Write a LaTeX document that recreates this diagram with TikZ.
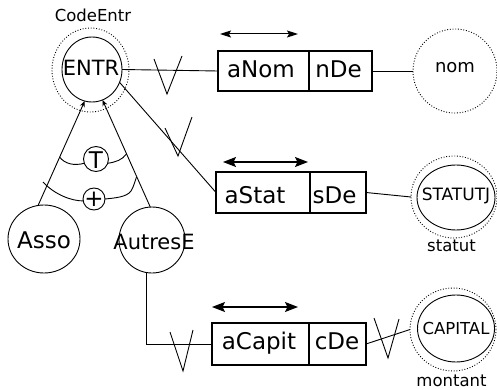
\documentclass[tikz,border=0pt]{standalone}
\usepackage{fontspec}
\setmainfont{DejaVu Sans}
\usetikzlibrary{shapes.geometric,arrows.meta}
\begin{document}
\begin{tikzpicture}[x=1pt,y=-1pt,
  every node/.style={inner sep=0pt, outer sep=0pt},
  ell/.style={draw, ellipse, line width=0.9pt},
  dotell/.style={draw, ellipse, line width=0.9pt, dash pattern=on 0.9pt off 1.8pt},
  boxpart/.style={draw, rectangle, line width=1.4pt},
  big/.style={font=\fontsize{23}{26}\selectfont, anchor=base},
  mid/.style={font=\fontsize{21}{24}\selectfont, anchor=base},
  small/.style={font=\fontsize{16.5}{19}\selectfont, anchor=base},
  conn/.style={line width=0.9pt},
  crow/.style={line width=0.9pt},
  upar/.style={conn, -{Stealth[length=6pt,width=5pt]}},
  dblthin/.style={line width=1pt, {Stealth[length=11pt,width=7pt,inset=2pt]}-{Stealth[length=11pt,width=7pt,inset=2pt]}},
  dblwide/.style={line width=1.1pt, {Stealth[length=13pt,width=10pt,inset=2.5pt]}-{Stealth[length=13pt,width=10pt,inset=2.5pt]}},
]
\useasboundingbox (0,0) rectangle (497,390);

% ENTR entity
\node[ell, minimum width=60, minimum height=65] (entr) at (92,69.5) {};
\node[dotell, minimum width=77, minimum height=84] (entrO) at (90.5,70) {};
\node[mid] (entrT) at (91,76) {ENTR};
\node[small] (codeT) at (93,21.7) {CodeEntr};

% boxes
\node[boxpart, minimum width=91, minimum height=40] (aNom) at (263.5,71) {};
\node[boxpart, minimum width=63, minimum height=40] (nDe) at (340.5,71) {};
\node[big] (aNomT) at (261,77.5) {aNom};
\node[big] (nDeT) at (338.5,77.5) {nDe};

\node[boxpart, minimum width=94, minimum height=41] (aStat) at (263,192.5) {};
\node[boxpart, minimum width=56, minimum height=41] (sDe) at (338,192.5) {};
\node[big] (aStatT) at (255,203.3) {aStat};
\node[big] (sDeT) at (334.5,203.3) {sDe};

\node[boxpart, minimum width=97, minimum height=42] (aCapit) at (260.5,344) {};
\node[boxpart, minimum width=57, minimum height=42] (cDe) at (337.5,344) {};
\node[big] (aCapitT) at (259,349.5) {aCapit};
\node[big] (cDeT) at (337,349.5) {cDe};

% right-hand circles
\node[dotell, minimum width=84, minimum height=84] (nomO) at (455,71) {};
\node[font=\fontsize{18}{20}\selectfont, anchor=base] (nomT) at (455,73) {nom};

\node[ell, minimum width=78, minimum height=65] (statS) at (456,197.5) {};
\node[dotell, minimum width=86, minimum height=82] (statO) at (454,197) {};
\node[font=\fontsize{17}{19}\selectfont, anchor=base] (statT) at (456,200) {STATUTJ};
\node[small] (statL) at (451.5,251.7) {statut};

\node[ell, minimum width=77, minimum height=67] (capS) at (456,328.5) {};
\node[dotell, minimum width=86, minimum height=83] (capO) at (453,329.5) {};
\node[small] (capT) at (456,334) {CAPITAL};
\node[small] (capL) at (451.5,386.7) {montant};

% subtypes
\node[ell, minimum width=72, minimum height=68] (asso) at (44,239) {};
\node[big] (assoT) at (44,248) {Asso};
\node[ell, minimum width=66, minimum height=66] (autres) at (152,240) {};
\node[mid] (autresT) at (154,249) {AutresE};

\node[ell, minimum width=25, minimum height=25] (T) at (96,159) {};
\node[big] (TT) at (96,168.3) {T};
\node[ell, minimum width=22, minimum height=22] (P) at (94,199) {};
\node[font=\fontsize{23}{26}\selectfont] (PT) at (94,199) {+};

% connectors
\draw[conn] (entr.east) -- (aNom.west);
\draw[conn] (entr.-25) -- (aStat.west);
\draw[conn] (nDe.east) -- (nomO.west);
\draw[conn] (sDe.east) -- (statO.west);
\draw[conn] (cDe.east) -- (capO.west);
\draw[conn] (autres.260) |- (aCapit.west);

\draw[upar] (asso.100) -- (entr.257);
\draw[upar] (autres.93) -- (entr.289);

% arcs of the specialisation constraints
\coordinate (tL) at (59.5,157);
\coordinate (tR) at (126.5,154);
\draw[conn] (tL) .. controls (65,164) and (74,166) .. (T.200);
\draw[conn] (T.340) .. controls (116,162) and (122,160) .. (tR);
\coordinate (pL) at (43,182);
\coordinate (pR) at (136.5,177);
\draw[conn] (pL) .. controls (55,195) and (72,201) .. (P.190);
\draw[conn] (P.east) .. controls (115,198) and (127,197) .. (131,191) .. controls (134,186) and (135,181) .. (pR);

% crow-foot marks
\draw[crow] (154,59) -- (167,94) -- (182,56);
\draw[crow] (165,128) -- (178,156) -- (192,117);
\draw[crow] (170,332) -- (183,371) -- (193,330);
\draw[crow] (374,318) -- (388,358) -- (399,319);

% identifier arrows
\coordinate (a1L) at (220,34);
\coordinate (a1R) at (298,34);
\draw[dblthin] (a1L) -- (a1R);
\coordinate (a2L) at (223,162);
\coordinate (a2R) at (308,162);
\draw[dblwide] (a2L) -- (a2R);
\coordinate (a3L) at (212,307);
\coordinate (a3R) at (298,307);
\draw[dblwide] (a3L) -- (a3R);
\end{tikzpicture}
\end{document}
